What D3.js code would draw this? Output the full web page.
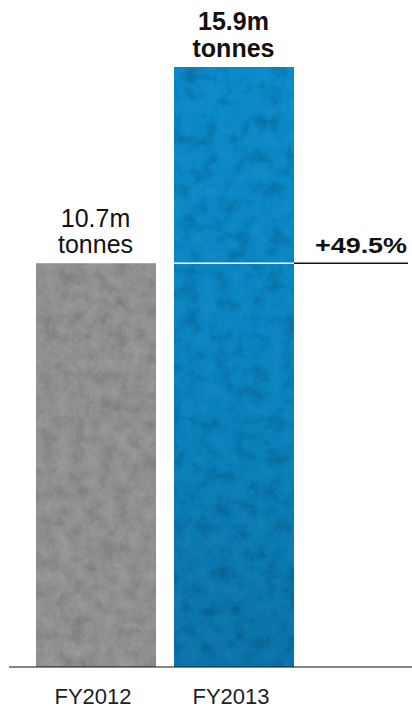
<!DOCTYPE html>
<html>
<head>
<meta charset="utf-8">
<script src="https://cdn.jsdelivr.net/npm/d3@7"></script>
<style>
  html, body { margin: 0; padding: 0; background: #fff; }
  svg { display: block; font-family: "Liberation Sans", Arial, Helvetica, sans-serif; }
</style>
</head>
<body>
<div id="chart"></div>
<script>
// Sales volume by financial year (million tonnes)
const categories = ["FY2012", "FY2013"];
const volumes = [10.7, 15.9];
const valueLabels = ["10.7m", "15.9m"];
const unitLabel = "tonnes";
const growthLabel = "+49.5%";

const W = 412, H = 711;
const svg = d3.select("#chart").append("svg")
  .attr("width", W).attr("height", H);

const x = d3.scaleBand().domain(categories).range([36, 294]).paddingInner(0.13).paddingOuter(0);
const y = d3.scaleLinear().domain([0, 15.9]).range([667, 67]);

// Mottled stone-like texture for the bars
const defs = svg.append("defs");
function mottled(id, seed, freq, dark, light, grain) {
  const f = defs.append("filter").attr("id", id)
    .attr("x", 0).attr("y", 0).attr("width", 1).attr("height", 1)
    .attr("color-interpolation-filters", "sRGB");
  f.append("feTurbulence").attr("type", "fractalNoise")
    .attr("baseFrequency", freq).attr("numOctaves", 4).attr("seed", seed).attr("result", "noise");
  f.append("feColorMatrix").attr("in", "noise").attr("type", "matrix")
    .attr("values", `0 0 0 0 0  0 0 0 0 0  0 0 0 0 0  ${dark} 0 0 0 ${-dark * 0.5}`)
    .attr("result", "darkA");
  f.append("feColorMatrix").attr("in", "noise").attr("type", "matrix")
    .attr("values", `0 0 0 0 1  0 0 0 0 1  0 0 0 0 1  ${-light} 0 0 0 ${light * 0.48}`)
    .attr("result", "lightA");
  f.append("feTurbulence").attr("type", "fractalNoise")
    .attr("baseFrequency", freq * 3.5).attr("numOctaves", 2).attr("seed", seed + 5).attr("result", "fine");
  f.append("feColorMatrix").attr("in", "fine").attr("type", "matrix")
    .attr("values", `0 0 0 0 1  0 0 0 0 1  0 0 0 0 1  0 ${grain} 0 0 ${-grain * 0.5}`)
    .attr("result", "grainA");
  f.append("feComposite").attr("in", "darkA").attr("in2", "SourceGraphic").attr("operator", "in").attr("result", "darkIn");
  f.append("feComposite").attr("in", "lightA").attr("in2", "SourceGraphic").attr("operator", "in").attr("result", "lightIn");
  f.append("feComposite").attr("in", "grainA").attr("in2", "SourceGraphic").attr("operator", "in").attr("result", "grainIn");
  const m = f.append("feMerge");
  m.append("feMergeNode").attr("in", "SourceGraphic");
  m.append("feMergeNode").attr("in", "darkIn");
  m.append("feMergeNode").attr("in", "lightIn");
  m.append("feMergeNode").attr("in", "grainIn");
}
mottled("texGrey", 3, 0.07, 0.32, 0.3, 0.22);
mottled("texBlue", 11, 0.06, 0.45, 0.12, 0.1);

const grad = defs.append("linearGradient").attr("id", "blueGrad")
  .attr("x1", 0).attr("y1", 0).attr("x2", 0).attr("y2", 1);
grad.append("stop").attr("offset", "0%").attr("stop-color", "#0a8ac8");
grad.append("stop").attr("offset", "55%").attr("stop-color", "#0982be");
grad.append("stop").attr("offset", "100%").attr("stop-color", "#0a72a8");

const fills = ["#8f8f8f", "url(#blueGrad)"];
const filters = ["url(#texGrey)", "url(#texBlue)"];

svg.selectAll("rect.bar").data(volumes).join("rect")
  .attr("class", "bar")
  .attr("x", (d, i) => x(categories[i]))
  .attr("width", x.bandwidth())
  .attr("y", d => y(d))
  .attr("height", d => y(0) - y(d))
  .attr("fill", (d, i) => fills[i])
  .attr("filter", (d, i) => filters[i]);

// Reference line at the FY2012 level carried across FY2013
const refY = y(volumes[0]);
svg.append("line")
  .attr("x1", x(categories[1])).attr("x2", x(categories[1]) + x.bandwidth())
  .attr("y1", refY).attr("y2", refY)
  .attr("stroke", "#fff").attr("stroke-width", 1.5);
svg.append("line")
  .attr("x1", x(categories[1]) + x.bandwidth()).attr("x2", 408)
  .attr("y1", refY).attr("y2", refY)
  .attr("stroke", "#111").attr("stroke-width", 1.3);

svg.append("text")
  .attr("x", 407).attr("y", refY - 10.5)
  .attr("text-anchor", "end")
  .attr("font-size", 22).attr("font-weight", "bold").attr("fill", "#111")
  .attr("textLength", 92).attr("lengthAdjust", "spacingAndGlyphs")
  .text(growthLabel);

// Value labels above bars
const labels = svg.selectAll("g.vlabel").data(volumes).join("g").attr("class", "vlabel")
  .attr("transform", (d, i) => `translate(${x(categories[i]) + x.bandwidth() / 2 - 0.5},${y(d)})`);
labels.append("text")
  .attr("y", (d, i) => i === 1 ? -37 : -36).attr("text-anchor", "middle")
  .attr("font-size", 25).attr("fill", "#111")
  .attr("font-weight", (d, i) => i === 1 ? "bold" : "normal")
  .text((d, i) => valueLabels[i]);
labels.append("text")
  .attr("y", -10).attr("text-anchor", "middle")
  .attr("font-size", 25).attr("fill", "#111")
  .attr("font-weight", (d, i) => i === 1 ? "bold" : "normal")
  .text(unitLabel);

// Baseline axis
const axis = svg.append("g").attr("transform", `translate(-3,${y(0)})`)
  .call(d3.axisBottom(x).tickSize(0).tickPadding(0));
axis.select(".domain").remove();
axis.selectAll("text")
  .attr("y", 36.5).attr("dy", null)
  .attr("font-size", 22).attr("font-family", "Liberation Sans, Arial, sans-serif")
  .attr("fill", "#222");
svg.append("line")
  .attr("x1", 9).attr("x2", 412).attr("y1", y(0)).attr("y2", y(0))
  .attr("stroke", "#111").attr("stroke-width", 1.2);
</script>
</body>
</html>
